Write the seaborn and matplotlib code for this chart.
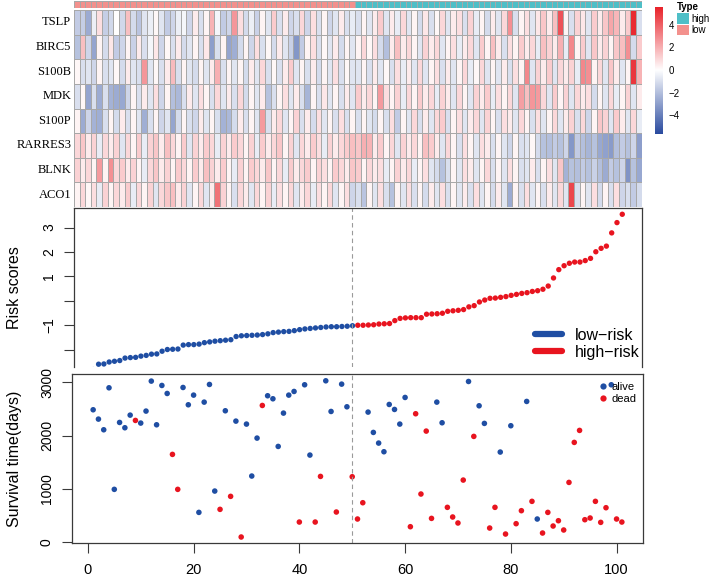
import numpy as np
import pandas as pd
import matplotlib
matplotlib.use('Agg')
import matplotlib.pyplot as plt
from matplotlib.colors import LinearSegmentedColormap, ListedColormap
from matplotlib.lines import Line2D
from matplotlib.patches import Patch
import seaborn as sns

plt.rcParams['font.family'] = ['Liberation Sans', 'DejaVu Sans']

# genes in the heatmap, one list of 101 scaled expression values per gene
genes = ['TSLP', 'BIRC5', 'S100B', 'MDK', 'S100P', 'RARRES3', 'BLNK', 'ACO1']

tslp = [-1.6, -1.5, -2.6, -0.5, 0.8, -1.5, -1.2, 0.0, -1.2, 1.6,
        -1.1, -1.8, -0.8, -0.5, 0.2, -0.8, -1.6, -1.3, -0.5, -0.3,
        -1.3, 0.5, -1.0, 0.3, 1.9, -0.3, -1.6, -1.3, 2.6, 0.8,
        -1.1, -0.5, -1.4, 0.3, -0.8, 1.3, -1.0, 0.5, -1.3, -1.0,
        1.0, -1.3, 0.8, -1.0, 0.3, -1.3, -0.8, 0.5, -1.0, -0.6,
        -1.0, 0.3, -0.8, 0.5, 1.3, -0.8, 0.5, -0.6, 1.0, -0.8,
        0.3, -1.1, 0.6, -1.0, 0.2, 1.0, -0.8, 0.5, 0.8, -1.0,
        1.1, -0.6, 0.3, -1.1, 0.5, -0.8, 1.0, 2.8, -1.0, 0.3,
        0.8, -0.8, 0.6, 1.4, 0.5, 1.6, 4.3, 0.3, -1.0, 1.1,
        0.6, -0.8, 1.3, 0.5, 1.4, 2.2, 1.8, 0.5, 1.3, 5.3,
        -1.0]
birc5 = [-1.9, 1.6, -1.3, -2.8, 0.3, -1.1, 0.6, -1.6, -1.3, 0.3,
         -1.4, 0.5, -1.0, -0.3, 0.6, -1.3, 0.2, -1.0, 0.5, -1.1,
         -0.8, 0.3, -1.0, 0.6, -3.0, -1.0, 0.3, -2.8, -2.5, -1.1,
         0.3, -1.3, 0.8, -1.0, 0.2, -1.1, 0.5, -0.8, -1.4, -3.2,
         -1.6, 0.3, 0.8, -1.0, 0.2, -0.8, 0.5, -1.1, 0.3, -0.8,
         0.3, 1.0, 0.2, 0.8, -1.1, -2.0, 0.5, 1.6, 0.5, 1.0,
         0.3, -0.8, 1.1, 0.5, 1.0, -0.8, 0.3, 0.8, -0.6, 0.5,
         1.0, -0.8, 1.3, 0.3, 1.6, 0.5, -1.0, 0.8, 0.3, 1.3,
         0.5, 1.0, -0.6, 1.6, 1.1, 0.5, 2.0, -0.6, 3.0, 0.3,
         1.3, -0.8, 1.4, 0.5, 1.1, 0.3, 1.4, 1.6, 2.8, -1.1,
         1.3]
s100b = [0.2, -1.0, -0.8, -1.3, 0.3, -1.0, -0.8, 0.2, -1.1, 0.5,
         -0.8, -1.0, 2.6, -0.8, 0.2, -1.0, 0.5, 1.7, -1.0, 0.3,
         -0.8, -1.1, 0.3, -0.8, 0.5, 2.0, -1.0, 0.3, -0.8, 0.3,
         -1.1, 0.5, -0.8, 1.0, -1.0, 0.2, -1.0, 0.5, 1.3, -0.8,
         0.3, -1.0, 0.5, -1.1, 0.3, -0.8, 0.8, -1.0, 0.2, -0.8,
         -0.8, 0.3, -1.0, 0.5, -0.8, 0.2, -1.0, 0.8, -0.6, 0.5,
         -0.8, 1.0, -0.8, 0.3, 0.8, -1.0, 0.5, -0.8, 0.3, 1.0,
         -0.6, 0.2, 1.0, -0.8, 0.3, -0.8, 0.5, -1.0, 0.8, 0.3,
         3.0, -0.8, 1.1, 0.5, 1.3, -0.8, 1.0, 0.5, 1.1, -0.6,
         3.0, 2.8, 0.3, 1.0, -0.8, 1.4, 0.5, -0.8, 0.3, 5.0,
         1.9]
mdk = [-1.0, 0.2, -2.8, -1.0, -2.6, -1.0, -2.4, -2.6, -2.7, -1.3,
       0.3, -1.0, 0.5, -0.8, 0.8, -1.3, 0.3, -2.0, -2.2, -1.0,
       0.5, -0.8, 0.8, 0.3, -1.0, 1.0, -0.8, 0.5, -1.0, 1.0,
       -1.1, 0.3, -0.8, 0.5, -1.9, -1.0, 0.3, 0.8, -0.8, 0.5,
       -1.0, -2.3, 0.3, -1.0, 0.6, -0.8, 0.3, -1.0, 0.5, -0.8,
       1.3, 0.5, 1.0, 0.3, 2.5, 0.8, 0.3, 1.1, -0.6, 1.0,
       0.3, 1.3, 0.5, 1.0, -0.6, 1.1, 0.5, -0.8, 1.0, 0.3,
       -0.8, 1.1, 0.5, 1.3, -0.6, 0.8, 0.3, 1.0, -0.8, 2.4,
       1.6, 2.6, 2.5, 1.0, -0.8, 1.3, 0.3, 1.1, -0.8, 1.0,
       0.5, 0.8, -1.1, 0.3, -0.8, 1.0, -0.6, 0.3, 1.1, -0.8,
       0.5]
s100p = [0.3, -2.6, -1.3, -2.4, -2.5, -1.0, 0.3, -1.1, 0.5, -1.0,
         0.3, -0.8, -2.5, -1.0, 0.3, -1.3, -0.8, -2.8, -1.1, 0.3,
         -1.0, -1.3, 0.5, -0.8, 0.3, -1.0, -2.4, -2.2, -1.1, 0.5,
         -1.0, 0.3, -0.8, 2.5, -1.0, 0.5, 1.0, -0.8, 0.3, 1.1,
         -1.0, 0.5, -1.1, 0.8, -0.8, 0.3, -1.0, 0.8, -1.0, 0.3,
         -1.0, 0.3, -0.8, -1.1, 0.3, -1.0, 0.8, -1.6, 0.3, -0.8,
         1.0, -1.0, 0.5, -0.8, 1.0, 1.3, -1.0, 0.3, 0.8, -0.8,
         0.5, 1.0, -0.8, 1.1, 0.3, -1.0, 0.8, 0.5, -0.8, 1.0,
         0.3, -1.0, 0.8, -0.8, 0.3, 1.0, -0.8, 0.5, 1.1, -1.0,
         1.0, -1.3, 0.3, 1.4, 1.1, -0.8, 1.3, 0.5, -0.8, 1.0,
         -0.6]
rarres3 = [1.0, 1.4, 0.5, 1.1, -0.6, 1.0, 0.5, 1.1, -0.8, 1.0,
           0.3, 1.3, -0.6, 1.1, 1.4, 0.5, 1.6, 1.0, 0.3, 1.3,
           -0.8, 1.1, 0.5, 1.3, 1.0, -0.6, 1.1, 0.5, 1.3, 1.0,
           0.3, 1.1, -0.6, 1.3, 0.5, 1.0, 1.4, 0.3, 1.1, -0.8,
           1.0, 0.5, 1.3, 0.8, -0.6, 1.1, 0.5, 1.0, 1.3, 1.6,
           1.4, 2.0, 1.9, 0.5, 1.3, 0.3, 1.0, -0.8, 1.1, 0.5,
           1.0, 0.3, 1.6, 1.3, 0.5, -0.8, 1.0, 0.3, -1.0, 0.8,
           0.3, -0.8, 0.8, 0.5, -1.0, 0.3, -0.8, -1.3, 0.3, -1.0,
           -0.8, 0.2, -1.1, -1.9, -2.0, -1.6, -1.9, -1.3, -3.2, -1.6,
           -2.0, -2.3, -1.9, -2.7, -2.9, -3.1, -2.0, -1.6, -1.9, -1.3,
           -3.0]
blnk = [1.1, 0.5, 1.0, 0.3, 2.5, 0.3, 2.8, 1.0, 1.3, 0.5,
        1.1, 0.3, -0.6, 1.0, 1.4, 0.5, 1.1, 0.3, 1.3, 1.0,
        0.3, 1.3, 0.5, 1.6, 1.1, 0.5, 1.3, 0.3, -0.6, 1.1,
        0.3, 1.3, 1.0, 0.5, 1.4, 0.3, 1.0, -0.6, 1.3, 0.5,
        1.0, 1.3, 0.3, 1.1, 0.8, 0.3, 1.3, 1.0, 0.5, 1.4,
        1.3, 0.3, 1.0, 0.5, 0.8, -0.6, 0.3, 1.1, 0.5, 1.0,
        -0.6, 0.3, 0.8, -0.8, -1.1, -1.9, -1.0, 0.3, -0.8, 0.8,
        0.5, -0.8, 0.3, 1.0, -1.0, 0.3, -0.8, 0.8, 0.3, -1.0,
        -0.8, 0.5, -1.0, 0.3, 0.8, -0.8, 1.4, -2.4, -1.9, -2.0,
        -1.6, -1.9, -1.4, -2.0, -2.6, -1.6, -1.9, -1.3, -3.3, -1.9,
        -2.7]
aco1 = [0.3, 1.0, 0.2, 0.8, -0.6, 1.1, 0.3, 1.0, 0.5, 1.3,
        -0.6, 1.0, 0.3, 1.1, -0.8, 1.0, 1.4, 1.6, 0.5, 1.1,
        -0.8, 0.3, 1.0, -0.8, 0.5, 3.5, 1.1, 0.3, -1.0, 1.0,
        0.5, -0.8, 1.0, 0.3, 1.1, -0.6, 0.8, 0.3, 1.0, -0.8,
        0.5, 1.0, -0.6, 0.8, 0.3, 1.0, -0.8, 0.3, 0.8, -1.3,
        -1.0, -1.8, 0.3, -0.8, 0.8, -1.0, -1.9, 0.3, -0.8, 0.8,
        -1.0, 0.3, -1.1, 0.5, -0.8, 0.8, -1.0, 0.3, -0.8, 0.5,
        -1.0, 0.8, -0.8, 0.3, -1.1, 0.5, -0.8, -2.6, 0.3, -1.0,
        0.8, -0.8, 0.3, -1.0, 0.5, -0.8, 1.0, -0.8, 4.6, -1.0,
        0.3, -0.8, 0.8, -1.1, 0.3, -1.0, 0.8, -1.3, -1.0, -1.6,
        -1.1]

# sorted risk score per patient
risk_score = [-2.80, -2.58, -2.57, -2.49, -2.46, -2.43, -2.33, -2.31, -2.30, -2.25,
              -2.22, -2.17, -2.16, -2.05, -1.98, -1.97, -1.96, -1.80, -1.78, -1.78,
              -1.76, -1.70, -1.67, -1.64, -1.62, -1.60, -1.58, -1.45, -1.42, -1.41,
              -1.40, -1.39, -1.37, -1.34, -1.29, -1.27, -1.25, -1.24, -1.21, -1.17,
              -1.14, -1.12, -1.10, -1.08, -1.06, -1.05, -1.05, -1.04, -1.03, -1.01,
              -0.99, -0.99, -0.98, -0.97, -0.94, -0.93, -0.92, -0.80, -0.71, -0.69,
              -0.68, -0.68, -0.68, -0.54, -0.53, -0.52, -0.50, -0.42, -0.40, -0.38,
              -0.35, -0.24, -0.19, -0.04, 0.04, 0.11, 0.12, 0.15, 0.18, 0.23,
              0.27, 0.31, 0.34, 0.39, 0.42, 0.48, 0.61, 0.94, 1.28, 1.44,
              1.54, 1.59, 1.59, 1.65, 1.74, 2.01, 2.15, 2.24, 2.78, 3.20,
              3.54]
risk_group = ['low'] * 50 + ['high'] * 51

# survival time and status (1 = dead)
surv_days = [2486, 2310, 2109, 2900, 986, 2247, 2147, 2385, 2285, 2235,
             2461, 3026, 2203, 2944, 2793, 1645, 986, 2906, 2580, 2762,
             552, 2630, 2963, 954, 609, 2467, 854, 2272, 88, 2216,
             1237, 1952, 2567, 2750, 2693, 1795, 2423, 2762, 2831, 370,
             2957, 1632, 370, 1230, 3032, 2454, 559, 2969, 2542, 1224,
             427, 734, 2442, 2059, 1858, 1695, 2586, 2492, 2216, 2718,
             282, 2411, 898, 2084, 439, 2630, 2241, 647, 465, 352,
             1161, 3019, 1984, 2561, 2229, 257, 647, 1689, 144, 2185,
             339, 584, 2643, 760, 427, 163, 552, 295, 395, 220,
             1117, 1871, 2097, 414, 446, 760, 364, 640, 2957, 427,
             370]
dead = [0, 0, 0, 0, 0, 0, 0, 0, 1, 0,
        0, 0, 0, 0, 0, 1, 1, 0, 0, 0,
        0, 0, 0, 0, 1, 0, 1, 0, 1, 0,
        0, 0, 1, 0, 0, 0, 0, 0, 0, 1,
        0, 0, 1, 1, 0, 0, 1, 0, 0, 1,
        1, 1, 0, 0, 0, 0, 0, 0, 0, 0,
        1, 1, 1, 1, 1, 0, 0, 1, 1, 1,
        1, 0, 1, 0, 0, 1, 1, 0, 1, 0,
        1, 1, 0, 1, 0, 1, 1, 1, 1, 1,
        1, 1, 1, 1, 1, 1, 1, 1, 0, 1,
        1]

blue = '#1f4ea3'
red = '#e8141f'
pink = '#f3918d'
teal = '#4fbfc7'
edge = '#a8a8a8'
spine_col = '#3a3a3a'

W, H = 709, 578
fig = plt.figure(figsize=(W / 100, H / 100), dpi=100)


def px_axes(l, t, r, b):
    return fig.add_axes([l / W, 1 - b / H, (r - l) / W, (b - t) / H])


samples = np.arange(1, len(risk_score) + 1)

# --- heatmap ---
expr = pd.DataFrame([tslp, birc5, s100b, mdk, s100p, rarres3, blnk, aco1],
                    index=genes, columns=samples)
heat_cmap = LinearSegmentedColormap.from_list('bwr_r', ['#2a4b9f', '#ffffff', '#e81f27'])
ax_h = px_axes(74, 10, 641.5, 207)
cax = px_axes(655, 6.5, 663, 133.5)
sns.heatmap(expr, ax=ax_h, cmap=heat_cmap, vmin=-5.6, vmax=5.6,
            linewidths=0.6, linecolor=edge, cbar_ax=cax,
            cbar_kws={'ticks': [-4, -2, 0, 2, 4]},
            xticklabels=False, yticklabels=True)
ax_h.set_yticklabels(genes, rotation=0, family=['Liberation Serif'], fontsize=9)
ax_h.tick_params(axis='y', length=0, pad=2)
ax_h.set_xlabel('')
ax_h.set_ylabel('')
cbar = ax_h.collections[0].colorbar
cbar.outline.set_visible(False)
cax.tick_params(length=0, labelsize=7, pad=4)

# annotation bar on top
type_codes = pd.DataFrame([[0 if g == 'low' else 1 for g in risk_group]], columns=samples)
ax_a = px_axes(74, 0.5, 641.5, 7.5)
sns.heatmap(type_codes, ax=ax_a, cmap=ListedColormap([pink, teal]), vmin=0, vmax=1,
            cbar=False, linewidths=0.5, linecolor=edge,
            xticklabels=False, yticklabels=False)
ax_a.set_xlabel('')
ax_a.set_ylabel('')

fig.legend(handles=[Patch(facecolor=teal), Patch(facecolor=pink)], labels=['high', 'low'],
           title='Type', loc='upper left', bbox_to_anchor=(677 / W, 1 - 2 / H),
           frameon=False, fontsize=7, title_fontproperties={'weight': 'bold', 'size': 7},
           alignment='left', handlelength=1.2, handleheight=1.3, labelspacing=0.1,
           handletextpad=0.25, borderpad=0, borderaxespad=0)

# --- risk score panel ---
risk_df = pd.DataFrame({'sample': samples, 'risk': risk_score, 'group': risk_group})
ax_r = px_axes(74, 208, 642, 367)
sns.scatterplot(data=risk_df, x='sample', y='risk', hue='group',
                palette={'low': blue, 'high': red}, s=15, linewidth=0,
                legend=False, ax=ax_r)
ax_r.axvline(50, color='#9a9a9a', ls=(0, (4, 3)), lw=0.8)
ax_r.set_xlim(-2.65, 104.73)
ax_r.set_ylim(-2.694, 3.796)
ax_r.set_xticks([])
ax_r.set_yticks([3, 2, 1, 0, -1, -2])
ax_r.set_yticklabels(['3', '2', '1', '', '\u22121', ''], rotation=90, va='center', fontsize=10)
ax_r.spines['bottom'].set_visible(False)
ax_r.set_xlabel('')
ax_r.set_ylabel('Risk scores', fontsize=11.5)
ax_r.yaxis.set_label_coords((22 - 74) / 568, 0.5)
ax_r.legend(handles=[Line2D([0], [0], color=blue, lw=4.5, solid_capstyle='round'),
                     Line2D([0], [0], color=red, lw=4.5, solid_capstyle='round')],
            labels=['low\u2212risk', 'high\u2212risk'], loc='upper left',
            bbox_to_anchor=((535 - 74) / 568, 1 - (328 - 208) / 159),
            frameon=False, fontsize=11.5, handlelength=1.7, handletextpad=0.8,
            labelspacing=0.1, borderpad=0, borderaxespad=0)

# --- survival panel ---
status = ['dead' if d else 'alive' for d in dead]
surv_df = pd.DataFrame({'sample': samples, 'days': surv_days, 'status': status})
ax_s = px_axes(72, 374, 643, 543)
sns.scatterplot(data=surv_df, x='sample', y='days', hue='status',
                palette={'alive': blue, 'dead': red}, s=16, linewidth=0,
                legend=False, ax=ax_s)
ax_s.axvline(50, color='#9a9a9a', ls=(0, (4, 3)), lw=0.8)
ax_s.set_xlim(-3, 105)
ax_s.set_ylim(-25, 3160)
ax_s.set_xticks([0, 20, 40, 60, 80, 100])
ax_s.set_yticks([0, 1000, 2000, 3000])
ax_s.set_yticklabels(['0', '1000', '2000', '3000'], rotation=90, va='center', fontsize=10)
ax_s.tick_params(axis='x', labelsize=10.5, pad=7.5)
ax_s.set_xlabel('')
ax_s.set_ylabel('Survival time(days)', fontsize=11.5)
ax_s.yaxis.set_label_coords((22 - 72) / 571, 0.5)
ax_s.legend(handles=[Line2D([], [], marker='o', ls='', color=blue, markersize=4.5, markeredgewidth=0),
                     Line2D([], [], marker='o', ls='', color=red, markersize=4.5, markeredgewidth=0)],
            labels=['alive', 'dead'], loc='upper left',
            bbox_to_anchor=((600 - 72) / 571, 1 - (382 - 374) / 169),
            frameon=False, fontsize=8, handlelength=0.6, handletextpad=0.4,
            labelspacing=0.15, borderpad=0, borderaxespad=0)

for ax in (ax_r, ax_s):
    for sp in ax.spines.values():
        sp.set_color(spine_col)
        sp.set_linewidth(0.9)
    ax.tick_params(direction='out', length=7, width=0.8, color=spine_col)
    ax.tick_params(axis='y', pad=6)
ax_s.tick_params(axis='x', pad=7.5)

fig.savefig('out.png', dpi=100)
